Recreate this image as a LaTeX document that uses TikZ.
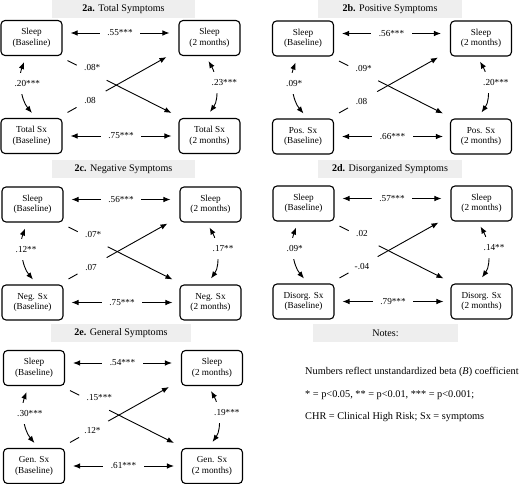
\documentclass[tikz,border=0pt]{standalone}
\usepackage{fontspec}
\setmainfont{Liberation Serif}
\usetikzlibrary{arrows.meta,calc}
\definecolor{titlegray}{HTML}{EEEEEE}
\tikzset{
  varbox/.style={draw=black, line width=1.1pt, rounded corners=4pt, minimum width=61pt, minimum height=35pt, inner sep=0pt, align=center, font=\fontsize{9.2}{10.5}\selectfont},
  conn/.style={line width=0.9pt, {Latex[length=7pt,width=5.5pt]}-{Latex[length=7pt,width=5.5pt]}},
  oneway/.style={line width=0.9pt, -{Latex[length=7pt,width=5.5pt]}},
  coef/.style={font=\fontsize{9.2}{10}\selectfont, inner sep=1pt},
  gapcoef/.style={coef, fill=white, inner xsep=7.5pt},
  curvecoef/.style={coef, fill=white, anchor=west, minimum height=21pt},
  paneltitle/.style={fill=titlegray, minimum height=18pt, inner sep=0pt, font=\fontsize{10.1}{12}\selectfont},
  note/.style={anchor=west, inner sep=0pt, font=\fontsize{10.3}{12}\selectfont}
}
\newcommand\drawpanel[9]{%
\begin{scope}[shift={#1}]
 \node[varbox] (#2SB) at (31.5,38) {Sleep\\(Baseline)};
 \node[varbox] (#2S2) at (209.5,38) {Sleep\\(2 months)};
 \node[varbox] (#2XB) at (31.5,136) {#3\\(Baseline)};
 \node[varbox] (#2X2) at (209.5,136) {#3\\(2 months)};
 \draw[conn] ($(#2SB.east)+(8,-5)$) -- node[gapcoef] (#2ct) {#4} ($(#2S2.west)+(-9,-5)$);
 \draw[conn] ($(#2XB.east)+(8,0)$) -- node[gapcoef] (#2cb) {#5} ($(#2X2.west)+(-7,0)$);
 \draw[conn] ($(#2SB.south)+(-7.5,6)$) .. controls (18,78) and (21,100) .. ($(#2XB.north)+(0.5,-5)$);
 \draw[conn] ($(#2S2.south)+(-1,5)$) .. controls (216,74) and (220,98) .. ($(#2X2.north)+(0.5,-6)$);
 \node[curvecoef] (#2cl) at (13.5,83.5) {#6};
 \node[curvecoef] (#2cr) at (210.5,82.5) {#7};
 \draw[oneway, dash pattern=on 10.3pt off 33.5pt on 300pt] ($(#2SB.south east)+(5,4.5)$) -- ($(#2X2.north west)+(-7,-5)$);
 \node[coef, anchor=west] (#2cd) at (83,68) {#8};
 \draw[oneway, dash pattern=on 10.3pt off 33.4pt on 300pt] ($(#2XB.north east)+(5,-5.5)$) -- ($(#2S2.south west)+(-12,1)$);
 \node[coef] (#2ce) at (90,101) {#9};
\end{scope}}
\begin{document}
\begin{tikzpicture}[x=1pt,y=-1pt]
\useasboundingbox (0,0) rectangle (520,484);
\node[paneltitle, minimum width=143pt] (t2a) at (123.5,9) {\textbf{2a.} Total Symptoms};
\node[paneltitle, minimum width=144pt] (t2b) at (390,9) {\textbf{2b.} Positive Symptoms};
\node[paneltitle, minimum width=143pt] (t2c) at (123.5,169) {\textbf{2c.} Negative Symptoms};
\node[paneltitle, minimum width=144pt] (t2d) at (390,169) {\textbf{2d.} Disorganized Symptoms};
\node[paneltitle, minimum width=140pt] (t2e) at (121,333) {\textbf{2e.} General Symptoms};
\node[paneltitle, minimum width=145pt] (tnotes) at (385.5,333) {Notes:};
\drawpanel{(0,0)}{a}{Total Sx}{.55***}{.75***}{.20***}{.23***}{.08*}{.08}
\drawpanel{(271.5,0.5)}{b}{Pos. Sx}{.56***}{.66***}{.09*}{.20***}{.09*}{.08}
\drawpanel{(1,166.5)}{c}{Neg. Sx}{.56***}{.75***}{.12**}{.17**}{.07*}{.07}
\drawpanel{(272,165.5)}{d}{Disorg. Sx}{.57***}{.79***}{.09*}{.14**}{.02}{-.04}
\drawpanel{(2.5,330)}{e}{Gen. Sx}{.54***}{.61***}{.30***}{.19***}{.15***}{.12*}
\node[note] (n1) at (305,372) {Numbers reflect unstandardized beta (\textit{B}) coefficient};
\node[note] (n2) at (305,395) {* = p<0.05, ** = p<0.01, *** = p<0.001;};
\node[note] (n3) at (305,417) {CHR = Clinical High Risk; Sx = symptoms};
\end{tikzpicture}
\end{document}
